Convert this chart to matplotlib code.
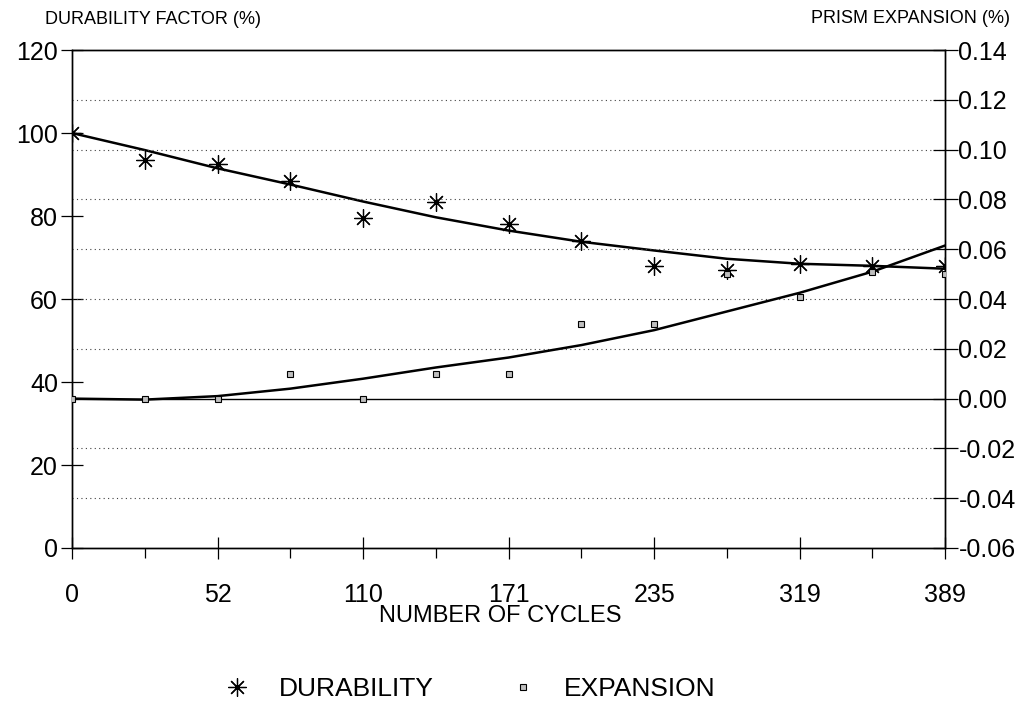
import matplotlib.pyplot as plt
from matplotlib.lines import Line2D

plt.rcParams['font.family'] = ['Liberation Sans', 'DejaVu Sans']

# cycle labels (every other tick carries a label)
cycle_labels = ['0', '52', '110', '171', '235', '319', '389']
n_pos = 13

# measured points
durability = [100, 93.5, 92.5, 88.5, 79.5, 83.5, 78, 74, 68, 67, 68.5, 68, 68]
expansion = [0.0, 0.0, 0.0, 0.01, 0.0, 0.01, 0.01, 0.03, 0.03, 0.05, 0.041, 0.051, 0.05]

# fitted curves as drawn
durability_fit = [100, 95.9, 91.5, 87.6, 83.5, 79.7, 76.5, 73.8, 71.7, 69.7, 68.5, 68, 67.3]
expansion_fit = [0.0, -0.0004, 0.001, 0.004, 0.008, 0.0125, 0.0165, 0.0215, 0.0275, 0.035, 0.0425, 0.051, 0.0615]

left_ticks = [0, 20, 40, 60, 80, 100, 120]
right_ticks = [-0.06, -0.04, -0.02, 0.00, 0.02, 0.04, 0.06, 0.08, 0.10, 0.12, 0.14]

x = list(range(n_pos))

fig = plt.figure(figsize=(10.33, 7.05), dpi=100)
ax = fig.add_axes([0.0697, 0.2227, 0.915 - 0.0697, 0.929 - 0.2227])
ax2 = ax.twinx()

# grid from the right axis ticks
for v in right_ticks[1:-1]:
    if v == 0:
        ax2.axhline(v, color='black', lw=1.0, zorder=1)
    else:
        ax2.axhline(v, color='0.25', lw=0.8, ls=(0, (1, 3)), zorder=1)

ax.plot(x, durability_fit, color='black', lw=1.8, zorder=3)
ax.plot(x, durability, ls='none', marker=(8, 2, 0), ms=13, mew=0.9, color='black', zorder=4)
ax2.plot(x, expansion_fit, color='black', lw=1.8, zorder=3)
ax2.plot(x, expansion, ls='none', marker='s', ms=4, mfc='0.75', mec='black', mew=0.8, zorder=4)

ax.set_xlim(0, n_pos - 1)
ax.set_ylim(0, 120)
ax2.set_ylim(-0.06, 0.14)

ax.set_yticks(left_ticks)
ax.set_yticklabels([str(t) for t in left_ticks], fontsize=18)
ax2.set_yticks(right_ticks)
ax2.set_yticklabels(['%.2f' % t for t in right_ticks], fontsize=18)

ax.set_xticks(x[::2])
ax.set_xticklabels(cycle_labels, fontsize=18)
ax.set_xticks(x[1::2], minor=True)

ax.tick_params(axis='y', direction='inout', length=16, width=0.9, pad=2)
ax2.tick_params(axis='y', direction='inout', length=18, width=0.9, pad=0.5)
ax.tick_params(axis='x', which='major', direction='inout', length=16, width=0.9, pad=17)
ax.tick_params(axis='x', which='minor', direction='out', length=7, width=0.9)

for a in (ax, ax2):
    for s in a.spines.values():
        s.set_linewidth(1.0)

ax.set_xlabel('NUMBER OF CYCLES', fontsize=17, va='center')
ax.xaxis.set_label_coords(0.49, -0.137)

fig.text(0.044, 0.972, 'DURABILITY FACTOR (%)', fontsize=13, va='center', ha='left')
fig.text(0.978, 0.974, 'PRISM EXPANSION (%)', fontsize=13, va='center', ha='right')

handles = [
    Line2D([], [], ls='none', marker=(8, 2, 0), ms=13, mew=0.9, color='black'),
    Line2D([], [], ls='none', marker='s', ms=4, mfc='0.75', mec='black', mew=0.8),
]
fig.legend(handles, ['DURABILITY', 'EXPANSION'], loc='center left', bbox_to_anchor=(0.217, 0.022),
           ncol=2, frameon=False, fontsize=19, handlelength=1.0, handletextpad=1.06,
           columnspacing=2.9, borderpad=0, borderaxespad=0)

fig.savefig('out.png', dpi=100)
